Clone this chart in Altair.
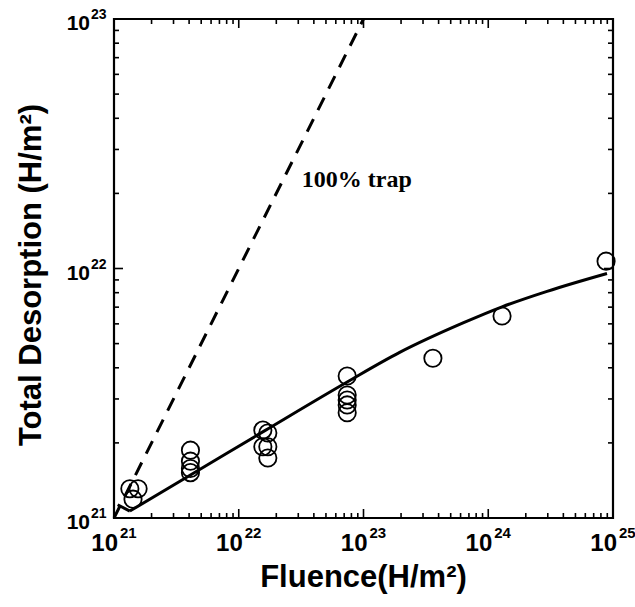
import altair as alt
import pandas as pd

# ---- data ----
fluence = [1.34e21, 1.56e21, 1.42e21,
           4.1e21, 4.1e21, 4.1e21, 4.1e21,
           1.56e22, 1.71e22, 1.56e22, 1.71e22, 1.71e22,
           7.4e22, 7.4e22, 7.4e22, 7.4e22, 7.4e22,
           3.6e23, 1.29e24, 8.8e24]
desorption = [1.31e21, 1.31e21, 1.19e21,
              1.87e21, 1.69e21, 1.58e21, 1.52e21,
              2.25e21, 2.19e21, 1.93e21, 1.93e21, 1.74e21,
              3.71e21, 3.11e21, 2.97e21, 2.84e21, 2.64e21,
              4.37e21, 6.45e21, 1.07e22]

# model curve (smooth part) and its short initial stroke
fit_fluence = [1.34e21, 4.07e21, 1.62e22, 7.4e22, 1.95e23, 6.28e23,
               1.29e24, 2.96e24, 8.95e24]
fit_desorption = [1.066e21, 1.483e21, 2.24e21, 3.51e21, 4.61e21, 6.05e21,
                  7.02e21, 8.1e21, 9.55e21]
fit_start_fluence = [1.07e21, 1.34e21]
fit_start_desorption = [1.13e21, 1.066e21]

trap_fluence = [1e21, 1e23]
trap_desorption = [1e21, 1e23]

x_decades = [1e21, 1e22, 1e23, 1e24, 1e25]
x_exponents = ["21", "22", "23", "24", "25"]
y_decades = [1e21, 1e22, 1e23]
y_exponents = ["21", "22", "23"]
minor_multipliers = [2, 3, 4, 5, 6, 7, 8, 9]

x_title = "Fluence(H/m²)"
y_title = "Total Desorption (H/m²)"
annotation = ["100% trap"]
annotation_x = [3.2e22]
annotation_y = [2.27e22]

# ---- layout ----
W = 499
H = 499
LABEL_FONT = "Liberation Sans Narrow, Liberation Sans, Arial, sans-serif"
TITLE_FONT = "Liberation Sans, Arial, sans-serif"

xs = alt.Scale(type="log", domain=[1e21, 1e25], nice=False)
ys = alt.Scale(type="log", domain=[1e21, 1e23], nice=False)


def X(field="x"):
    return alt.X(f"{field}:Q", scale=xs, axis=None)


def Y(field="y"):
    return alt.Y(f"{field}:Q", scale=ys, axis=None)


points = alt.Chart(pd.DataFrame({"x": fluence, "y": desorption})).mark_point(
    shape="circle", filled=False, size=300, stroke="black", strokeWidth=1.8, opacity=1
).encode(x=X(), y=Y())

fit = alt.Chart(pd.DataFrame({"x": fit_fluence, "y": fit_desorption})).mark_line(
    color="black", strokeWidth=3, interpolate="monotone"
).encode(x=X(), y=Y())

fit_start = alt.Chart(pd.DataFrame({"x": fit_start_fluence, "y": fit_start_desorption})).mark_line(
    color="black", strokeWidth=3, interpolate="linear"
).encode(x=X(), y=Y())

trap = alt.Chart(pd.DataFrame({"x": trap_fluence, "y": trap_desorption})).mark_line(
    color="black", strokeWidth=3, strokeDash=[14, 10]
).encode(x=X(), y=Y())

note = alt.Chart(pd.DataFrame({"x": annotation_x, "y": annotation_y, "t": annotation})).mark_text(
    align="left", baseline="middle", fontSize=24, fontWeight="bold",
    font="Liberation Serif, Times New Roman, serif", color="black"
).encode(x=X(), y=Y(), text="t:N")

# ---- ticks (inward, all four sides) ----
x_minor = [d * m for d in x_decades[:-1] for m in minor_multipliers]
y_minor = [d * m for d in y_decades[:-1] for m in minor_multipliers]

tick_layers = []
for vals, length in [(x_decades, 9), (x_minor, 5)]:
    df = pd.DataFrame({"x": vals})
    tick_layers.append(alt.Chart(df).mark_rule(color="black", strokeWidth=1.6).encode(
        x=X(), y=alt.value(H), y2=alt.value(H - length)))
    tick_layers.append(alt.Chart(df).mark_rule(color="black", strokeWidth=1.6).encode(
        x=X(), y=alt.value(0), y2=alt.value(length)))
for vals, length in [(y_decades, 9), (y_minor, 5)]:
    df = pd.DataFrame({"y": vals})
    tick_layers.append(alt.Chart(df).mark_rule(color="black", strokeWidth=1.6).encode(
        y=Y(), x=alt.value(0), x2=alt.value(length)))
    tick_layers.append(alt.Chart(df).mark_rule(color="black", strokeWidth=1.6).encode(
        y=Y(), x=alt.value(W), x2=alt.value(W - length)))

# ---- tick labels ----
xl = pd.DataFrame({"x": x_decades, "base": ["10"] * len(x_decades), "exp": x_exponents})
yl = pd.DataFrame({"y": y_decades, "base": ["10"] * len(y_decades), "exp": y_exponents})

x_base = alt.Chart(xl).mark_text(
    align="right", baseline="middle", fontSize=24, fontWeight="bold", font=LABEL_FONT, dx=4
).encode(x=X(), y=alt.value(H + 26), text="base:N")
x_exp = alt.Chart(xl).mark_text(
    align="left", baseline="middle", fontSize=15, fontWeight="bold", font=LABEL_FONT, dx=6
).encode(x=X(), y=alt.value(H + 15), text="exp:N")

y_base = alt.Chart(yl).mark_text(
    align="right", baseline="middle", fontSize=21, fontWeight="bold", font=LABEL_FONT, dy=5
).encode(y=Y(), x=alt.value(-24), text="base:N")
y_exp = alt.Chart(yl).mark_text(
    align="left", baseline="middle", fontSize=14, fontWeight="bold", font=LABEL_FONT, dy=-4
).encode(y=Y(), x=alt.value(-23), text="exp:N")

# ---- axis titles ----
xt = alt.Chart(pd.DataFrame({"t": [x_title]})).mark_text(
    align="center", baseline="middle", fontSize=31, fontWeight="bold", font=TITLE_FONT
).encode(x=alt.value(W / 2), y=alt.value(559), text="t:N")
yt = alt.Chart(pd.DataFrame({"t": [y_title]})).mark_text(
    align="center", baseline="middle", fontSize=31, fontWeight="bold", font=TITLE_FONT, angle=270
).encode(x=alt.value(-82), y=alt.value(256), text="t:N")

chart = alt.layer(
    trap, fit_start, fit, points, note, *tick_layers, x_base, x_exp, y_base, y_exp, xt, yt
).properties(
    width=W, height=H,
    autosize=alt.AutoSizeParams(type="none"),
    padding={"left": 114, "top": 19, "right": 22, "bottom": 89},
    background="white",
).configure_view(stroke="black", strokeWidth=2.2)

chart.save("out.html", embed_options={"renderer": "svg", "actions": False})
